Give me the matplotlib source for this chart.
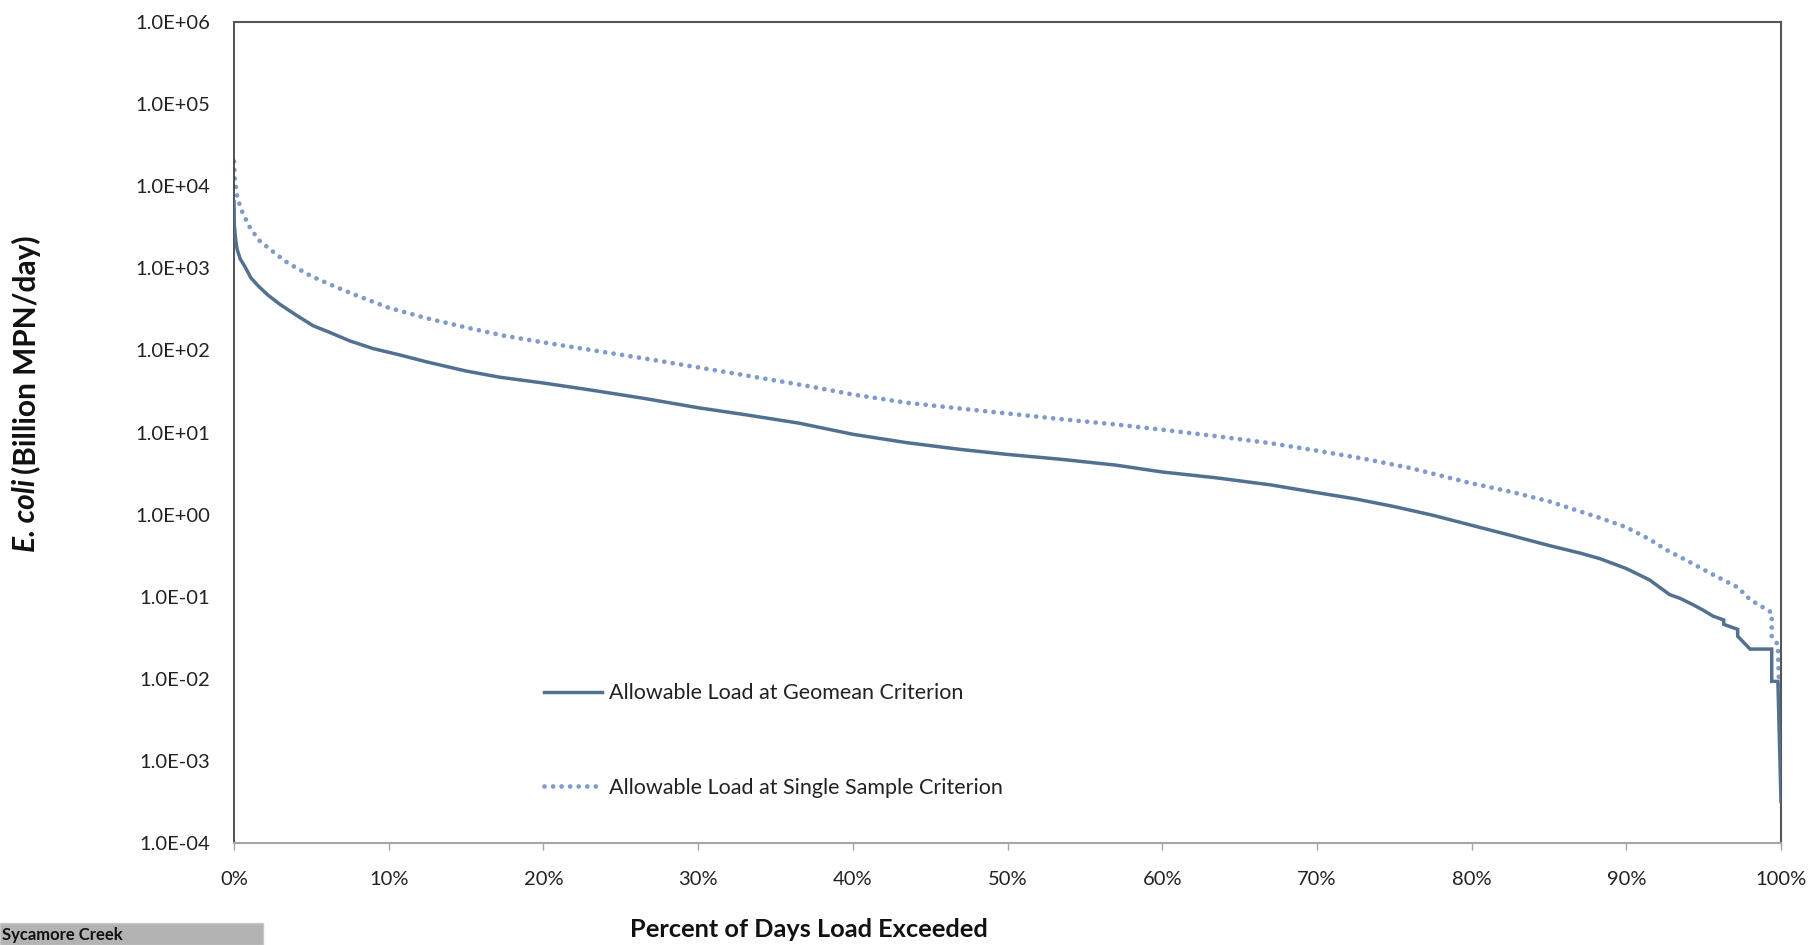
import matplotlib
matplotlib.use("Agg")
import matplotlib.pyplot as plt
from matplotlib.patches import Rectangle
from matplotlib.ticker import FixedLocator, FuncFormatter

plt.rcParams['font.family'] = ['Lato', 'DejaVu Sans']

# values (percent of days exceeded, load in billion MPN/day)
geo_pct = [0.0, 0.02, 0.1, 0.2, 0.4, 0.7, 1.1, 1.6, 2.2, 3.0, 4.0, 5.1, 6.2, 7.5, 9.0, 10.7,
           12.5, 15.0, 17.2, 20.0, 23.0, 26.5, 30.0, 33.0, 36.5, 40.0, 43.5, 47.0, 50.0,
           53.5, 57.0, 60.0, 63.5, 67.0, 70.0, 72.5, 75.0, 77.5, 80.0, 82.5, 85.0, 87.0,
           88.3, 90.0, 91.5, 92.8, 93.5, 94.3, 95.0, 95.6, 96.3, 96.3, 97.2, 97.2, 98.0,
           99.4, 99.4, 99.8, 99.8, 100.0]
geo_load = [6500, 3400, 2300, 1700, 1300, 1050, 760, 600, 470, 360, 270, 200, 165, 130, 105, 88,
            72, 56, 47, 40, 33, 26, 20, 16.5, 13, 9.5, 7.5, 6.2, 5.4,
            4.7, 4.0, 3.3, 2.8, 2.3, 1.85, 1.55, 1.25, 0.98, 0.74, 0.56, 0.42, 0.34,
            0.29, 0.22, 0.16, 0.106, 0.095, 0.08, 0.068, 0.058, 0.052, 0.046, 0.040, 0.033, 0.023,
            0.023, 0.0093, 0.0093, 0.0093, 0.00032]

ss_pct = [0.0, 0.05, 0.2, 0.5, 1.0, 1.6, 2.5, 3.5, 5.0, 6.5, 8.0, 10.0, 12.5, 15.0, 17.5,
          20.0, 23.5, 27.0, 30.0, 33.5, 37.0, 40.0, 43.5, 47.0, 50.0, 53.5, 57.0, 60.0,
          63.5, 67.0, 70.0, 73.0, 76.0, 80.0, 82.5, 85.0, 88.3, 90.0, 91.5, 92.6, 94.0,
          95.5, 97.2, 98.0, 99.4, 99.4, 99.8, 100.0]
ss_load = [20000, 12000, 7500, 5000, 3200, 2200, 1600, 1150, 800, 600, 460, 330, 245, 190, 150,
           125, 98, 77, 62, 48, 37, 29, 23, 19.5, 17, 14.5, 12.5, 10.8,
           9.0, 7.4, 6.0, 4.8, 3.7, 2.4, 1.9, 1.45, 0.91, 0.70, 0.50, 0.37, 0.27,
           0.19, 0.13, 0.092, 0.064, 0.033, 0.026, 0.001]

y_ticks = [1e-4, 1e-3, 1e-2, 1e-1, 1e0, 1e1, 1e2, 1e3, 1e4, 1e5, 1e6]
x_ticks = [0, 10, 20, 30, 40, 50, 60, 70, 80, 90, 100]

W, H = 1810, 945
fig = plt.figure(figsize=(W / 100, H / 100 + 0.001), dpi=100)
ax = fig.add_axes([234 / W, 1 - 843 / H, (1781 - 234) / W, (843 - 22) / H])

ax.plot(geo_pct, geo_load, color='#52708f', lw=2.5, solid_joinstyle='miter',
        label='Allowable Load at Geomean Criterion', zorder=3)
ax.plot(ss_pct, ss_load, color='#7f9acb', lw=3.4, linestyle=(0, (0.01, 1.8)),
        dash_capstyle='round', label='Allowable Load at Single Sample Criterion', zorder=2)

ax.set_yscale('log')
ax.set_ylim(1e-4, 1e6)
ax.set_xlim(0, 100)
ax.yaxis.set_major_locator(FixedLocator(y_ticks))
ax.yaxis.set_minor_locator(FixedLocator([]))
ax.yaxis.set_major_formatter(FuncFormatter(lambda v, p: '{:.1E}'.format(v)))
ax.set_xticks(x_ticks)
ax.set_xticklabels(['{}%'.format(t) for t in x_ticks])

ax.tick_params(axis='y', length=0, pad=17, labelsize=14.5, labelcolor='#222222')
ax.tick_params(axis='x', length=5, width=1, color='#a6a6a6', pad=15, labelsize=14.5,
               labelcolor='#222222', direction='out')

ax.spines['left'].set_color('#333333')
ax.spines['left'].set_linewidth(1.2)
ax.spines['bottom'].set_color('#a6a6a6')
ax.spines['bottom'].set_linewidth(1.5)
for s in ['top', 'right']:
    ax.spines[s].set_color('#555555')
    ax.spines[s].set_linewidth(1.5)

fig.text(809 / W, 1 - 929 / H, 'Percent of Days Load Exceeded', fontsize=18.3,
         fontweight='bold', ha='center', va='center', color='#111111')

leg = ax.legend(loc='upper left', bbox_to_anchor=(0.195, 0.205), frameon=False, fontsize=15.5,
                handlelength=2.7, handletextpad=0.3, labelspacing=3.45, borderaxespad=0)
for t in leg.get_texts():
    t.set_color('#222222')

# y label with italic genus part
fig.canvas.draw()
r = fig.canvas.get_renderer()
t1 = fig.text(26 / W, 1 - 552 / H, 'E. coli', rotation=90, fontsize=21.5,
              fontweight='bold', style='italic', ha='center', va='bottom', color='#111111')
bb = t1.get_window_extent(r)
fig.text(26 / W, bb.y1 / fig.bbox.height + 0.005, '(Billion MPN/day)', rotation=90,
         fontsize=21.5, fontweight='bold', ha='center', va='bottom', color='#111111')

# sheet tab at the bottom left
fig.patches.append(Rectangle((0, 0), 263 / W, 22 / H, transform=fig.transFigure,
                             facecolor='#b3b3b3', edgecolor='#c8c8c8', zorder=1))
fig.text(2 / W, 2 / H, 'Sycamore Creek', fontsize=12, fontweight='bold',
         color='#111111', ha='left', va='bottom')

fig.savefig('out.png', dpi=100)
